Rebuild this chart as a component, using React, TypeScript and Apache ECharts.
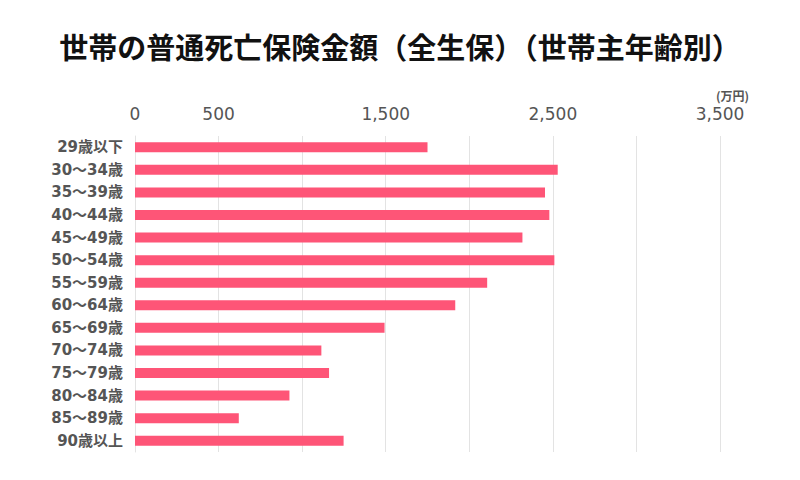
import React, { useEffect, useRef } from "react";
import * as echarts from "echarts";

const categories = [
  "29歳以下", "30〜34歳", "35〜39歳", "40〜44歳", "45〜49歳", "50〜54歳", "55〜59歳",
  "60〜64歳", "65〜69歳", "70〜74歳", "75〜79歳", "80〜84歳", "85〜89歳", "90歳以上",
];
const values = [1750, 2529, 2453, 2479, 2318, 2509, 2107, 1916, 1493, 1115, 1161, 924, 621, 1248];
const shownTicks = [0, 500, 1500, 2500, 3500];
const titleText = "世帯の普通死亡保険金額（全生保）（世帯主年齢別）";
const unitText = "(万円)";

export default function App() {
  const ref = useRef<HTMLDivElement>(null);
  useEffect(() => {
    if (!ref.current) return;
    const chart = echarts.init(ref.current, null, { renderer: "svg" });
    const cjk = "'Noto Sans CJK JP', 'Noto Sans', sans-serif";
    const num = "'DejaVu Sans', 'Noto Sans CJK JP', sans-serif";
    chart.setOption({
      animation: false,
      backgroundColor: "#fff",
      title: {
        text: titleText,
        left: "center",
        top: 26,
        textStyle: { fontFamily: cjk, fontSize: 29, fontWeight: "bold", color: "#111" },
      },
      graphic: [
        {
          type: "text",
          left: 716,
          top: 89,
          style: { text: unitText, fontFamily: cjk, fontSize: 12, fill: "#555", fontWeight: "bold" },
        },
      ],
      grid: { left: 135, right: 80, top: 136, bottom: 28, containLabel: false },
      xAxis: {
        type: "value",
        position: "top",
        min: 0,
        max: 3500,
        interval: 500,
        axisLine: { show: false },
        axisTick: { show: false },
        splitLine: { show: true, lineStyle: { color: "#e3e3e3", width: 1 } },
        axisLabel: {
          margin: 14,
          fontFamily: num,
          fontSize: 17,
          color: "#555",
          formatter: (v: number) => (shownTicks.includes(v) ? v.toLocaleString("en-US") : ""),
        },
      },
      yAxis: {
        type: "category",
        inverse: true,
        data: categories,
        axisLine: { show: true, lineStyle: { color: "#e3e3e3" } },
        axisTick: { show: false },
        axisLabel: { fontFamily: num, fontSize: 15, fontWeight: "bold", color: "#555", margin: 12 },
      },
      series: [
        {
          type: "bar",
          data: values,
          barWidth: 10,
          itemStyle: { color: "#fe5577" },
        },
      ],
    });
    return () => chart.dispose();
  }, []);
  return <div ref={ref} style={{ width: 800, height: 480, margin: -8 }} />;
}
